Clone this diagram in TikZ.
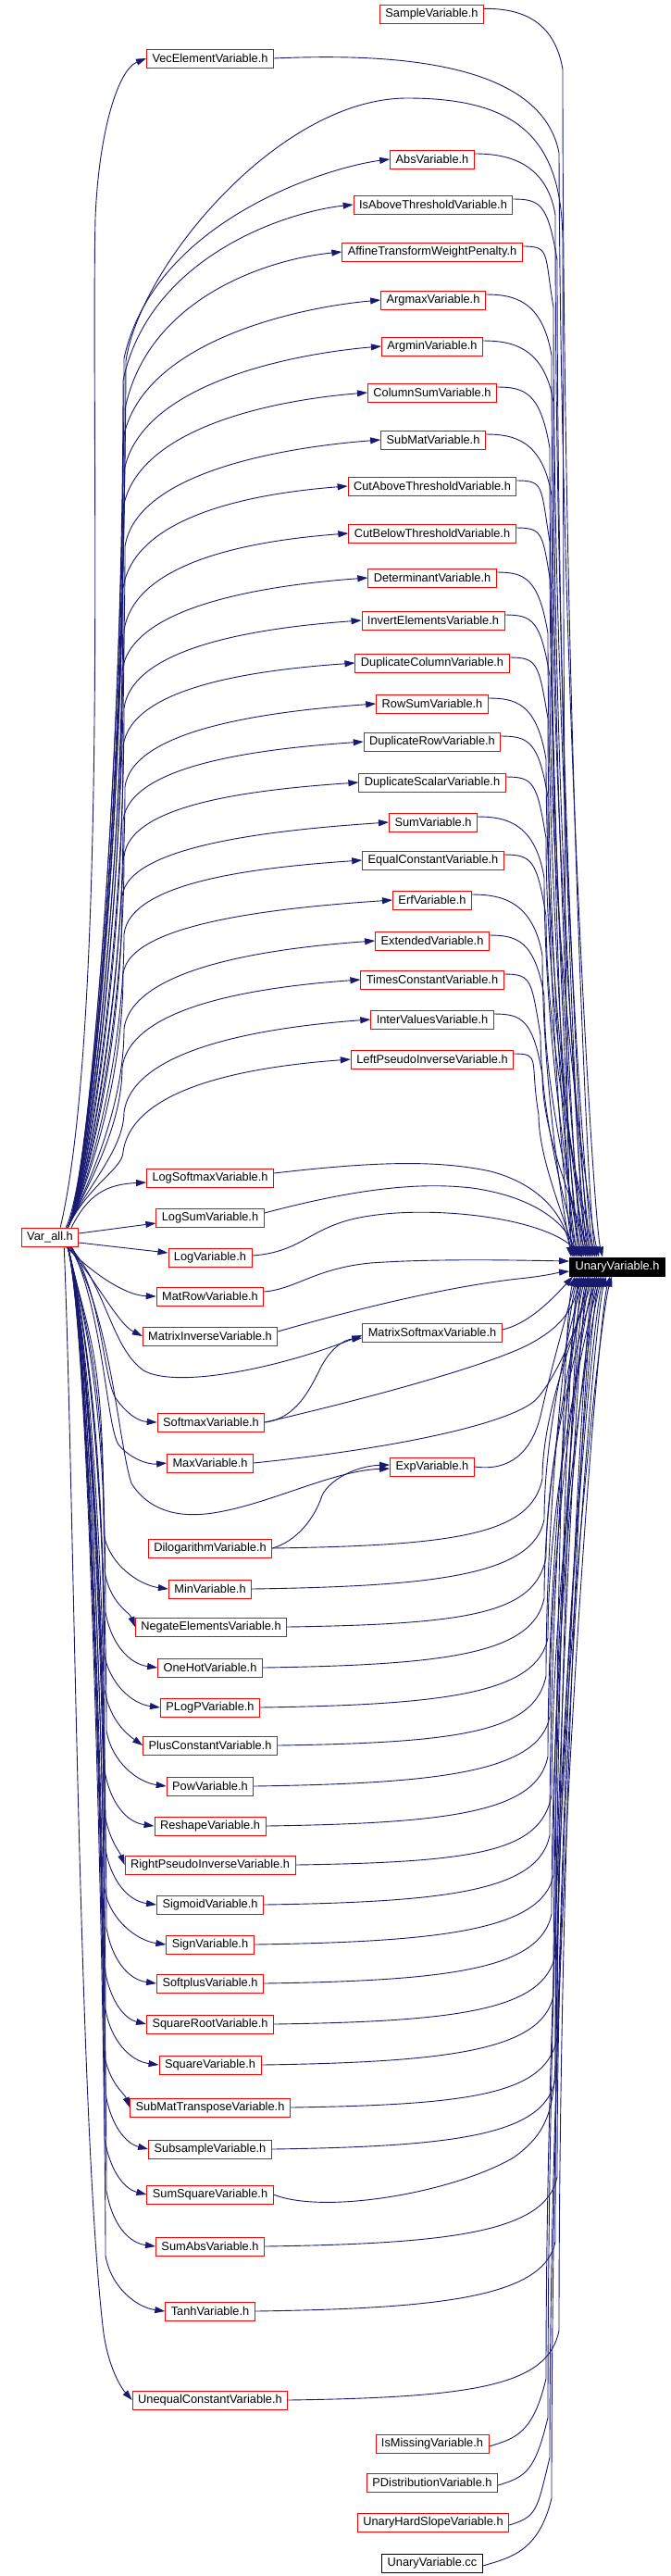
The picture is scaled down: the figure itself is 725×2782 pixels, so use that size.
\documentclass[tikz,border=0pt]{standalone}
\usepackage{fontspec}
\setmainfont{Liberation Sans}
\usetikzlibrary{arrows.meta,calc}
\definecolor{edgeblue}{HTML}{191970}
\pgfdeclarelayer{bg}
\pgfsetlayers{bg,main}
\begin{document}
\begin{tikzpicture}[x=1pt,y=-1pt,
  box/.style={draw=red, fill=white, line width=0.9pt, minimum height=20pt, inner xsep=6pt, inner ysep=0pt, font=\fontsize{12.8}{14}\selectfont, text=black},
  uvbox/.style={box, draw=black, fill=black, text=white},
  ccbox/.style={box, draw=black},
  edge/.style={draw=edgeblue, line width=0.9pt, -{Triangle[length=11pt,width=7pt]}}
]
\useasboundingbox (0,0) rectangle (725,2782);
% ---------------- nodes ----------------
\node[box] (samp) at (466.5,15.3) {SampleVariable.h};
\node[box] (vec) at (227,63) {VecElementVariable.h};
\node[box] (abs) at (467,172) {AbsVariable.h};
\node[box] (isab) at (468,221) {IsAboveThresholdVariable.h};
\node[box] (aff) at (467,272) {AffineTransformWeightPenalty.h};
\node[box] (argmax) at (468,324) {ArgmaxVariable.h};
\node[box] (argmin) at (467,374) {ArgminVariable.h};
\node[box] (colsum) at (467,424) {ColumnSumVariable.h};
\node[box] (submat) at (468,475) {SubMatVariable.h};
\node[box] (cutab) at (467,525) {CutAboveThresholdVariable.h};
\node[box] (cutbe) at (467,576) {CutBelowThresholdVariable.h};
\node[box] (det) at (467,624) {DeterminantVariable.h};
\node[box] (inv) at (468,670) {InvertElementsVariable.h};
\node[box] (dupcol) at (467,716) {DuplicateColumnVariable.h};
\node[box] (rowsum) at (467,760) {RowSumVariable.h};
\node[box] (duprow) at (467,801) {DuplicateRowVariable.h};
\node[box] (dupsc) at (467,845) {DuplicateScalarVariable.h};
\node[box] (sum) at (468,888) {SumVariable.h};
\node[box] (eqc) at (468,929) {EqualConstantVariable.h};
\node[box] (erf) at (467,972) {ErfVariable.h};
\node[box] (ext) at (467,1016) {ExtendedVariable.h};
\node[box] (times) at (467,1058) {TimesConstantVariable.h};
\node[box] (inter) at (467,1101) {InterValuesVariable.h};
\node[box] (lpi) at (467,1144) {LeftPseudoInverseVariable.h};
\node[box] (va) at (54,1336) {Var\_all.h};
\node[uvbox] (uv) at (667,1368) {UnaryVariable.h};
\node[box] (lsm) at (227,1272) {LogSoftmaxVariable.h};
\node[box] (lsum) at (227,1315) {LogSumVariable.h};
\node[box] (log) at (227,1358) {LogVariable.h};
\node[box] (matrow) at (227,1400) {MatRowVariable.h};
\node[box] (matinv) at (227,1443) {MatrixInverseVariable.h};
\node[box] (matsm) at (467,1439) {MatrixSoftmaxVariable.h};
\node[box] (softmax) at (228,1536) {SoftmaxVariable.h};
\node[box] (max) at (227,1580) {MaxVariable.h};
\node[box] (exp) at (467,1584) {ExpVariable.h};
\node[box] (dilog) at (227,1672) {DilogarithmVariable.h};
\node[box] (min) at (227,1716) {MinVariable.h};
\node[box] (neg) at (228,1757) {NegateElementsVariable.h};
\node[box] (onehot) at (227,1801) {OneHotVariable.h};
\node[box] (plogp) at (227,1844) {PLogPVariable.h};
\node[box] (plusc) at (227,1885) {PlusConstantVariable.h};
\node[box] (pow) at (227,1929) {PowVariable.h};
\node[box] (reshape) at (227,1972) {ReshapeVariable.h};
\node[box] (rpi) at (227,2014) {RightPseudoInverseVariable.h};
\node[box] (sigmoid) at (227,2057) {SigmoidVariable.h};
\node[box] (sign) at (227,2100) {SignVariable.h};
\node[box] (softplus) at (227,2142) {SoftplusVariable.h};
\node[box] (sqrt) at (227,2186) {SquareRootVariable.h};
\node[box] (square) at (227,2230) {SquareVariable.h};
\node[box] (smt) at (227,2276) {SubMatTransposeVariable.h};
\node[box] (subsample) at (227,2321) {SubsampleVariable.h};
\node[box] (sumsq) at (227,2370) {SumSquareVariable.h};
\node[box] (sumabs) at (227,2426) {SumAbsVariable.h};
\node[box] (tanh) at (227,2496) {TanhVariable.h};
\node[box] (uneq) at (227,2592) {UnequalConstantVariable.h};
\node[box] (ismiss) at (467,2639) {IsMissingVariable.h};
\node[box] (pdist) at (467,2681) {PDistributionVariable.h};
\node[box] (uhs) at (468,2724) {UnaryHardSlopeVariable.h};
\node[ccbox] (uvcc) at (467,2768) {UnaryVariable.cc};
% ---------------- edges ----------------
\begin{pgfonlayer}{bg}
\fill[white] (0,0) rectangle (725,2782);
% Var_all -> right column (upper)
\foreach \n/\y/\L/\bx in {abs/172/215/134, isab/221/190/133, aff/272/170/135, argmax/324/150/133, argmin/374/135/134, colsum/424/125/133, submat/475/115/135, cutab/525/110/133, cutbe/576/105/134, det/624/100/132, inv/670/95/134, dupcol/716/90/133, rowsum/760/90/135, duprow/801/85/133, dupsc/845/80/134, sum/888/80/132, eqc/929/80/134, erf/972/80/133, ext/1016/95/134, times/1058/95/132, inter/1101/100/134, lpi/1144/100/133}
  \draw[edge] ([xshift=-12pt]va.north east) .. controls (95,1280) and (\bx,{(\y+\L+1280)/2}) .. (\bx,{\y+\L}) .. controls ({\bx+0.2*\L-10},{\y+0.3*\L}) and ($(\n.west)+({-150+0.4*\L},8)$) .. (\n.west);
% Var_all -> VecElement
\draw[edge] ([xshift=-20pt]va.north east) .. controls (118,1100) and (98,450) .. (103,235) .. controls (107,140) and (128,75) .. (vec.west);
% Var_all -> UnaryVariable (big arc)
\draw[edge] ([xshift=-14pt]va.north east) .. controls (95,1280) and (134,900) .. (136,390) .. controls (150,290) and (300,106) .. (440,106) .. controls (560,106) and (607,150) .. (608,260) .. controls (609,900) and (612,1300) .. ($(uv.north west)+(4,0)$);
% Var_all -> left column upper
\draw[edge] ([xshift=-8pt]va.north east) .. controls (95,1290) and (115,1279) .. ([yshift=-5pt]lsm.west);
\draw[edge] ([yshift=4pt]va.east) -- ([yshift=-6pt]lsum.west);
\draw[edge] ([yshift=-6pt]va.east) -- ([yshift=5pt]log.west);
\draw[edge] ([xshift=-14pt]va.south east) .. controls (100,1375) and (135,1399) .. (matrow.west);
\draw[edge] ([xshift=-12pt]va.south east) .. controls (105,1385) and (128,1430) .. (matinv.west);
\draw[edge] ([xshift=-10pt]va.south east) .. controls (115,1390) and (120,1455) .. (155,1480) .. controls (190,1500) and (300,1478) .. ([yshift=-3pt]matsm.west);
\draw[edge] ([xshift=-8pt]va.south east) .. controls (110,1400) and (112,1490) .. (125,1510) .. controls (138,1528) and (150,1535) .. (softmax.west);
\draw[edge] ([xshift=-8pt]va.south east) .. controls (112,1420) and (115,1540) .. (128,1560) .. controls (140,1575) and (160,1582) .. (max.west);
\draw[edge] ([xshift=-10pt]va.south east) .. controls (120,1420) and (128,1560) .. (142,1602) .. controls (160,1630) and (190,1640) .. (230,1634) .. controls (290,1625) and (360,1588) .. ([yshift=-2pt]exp.west);
% Var_all -> left column lower
\foreach \n/\y/\bx/\dx/\dy in {min/1716/112/-30/-4, neg/1757/113/-6/-16, onehot/1801/114/-30/-4, plogp/1844/112/-30/-4, plusc/1885/113/-14/-10, pow/1929/115/-30/-4, reshape/1972/113/-30/-4, rpi/2014/112/-6/-16, sigmoid/2057/114/-30/-4, sign/2100/113/-30/-4, softplus/2142/115/-30/-4, sqrt/2186/113/-24/-6, square/2230/114/-30/-4, smt/2276/112/-6/-16, subsample/2321/114/-24/-6, sumsq/2370/113/-24/-6, sumabs/2426/115/-30/-4, tanh/2496/114/-30/-4}
  \draw[edge] ([xshift=-12pt]va.south east) .. controls ({\bx-15},1450) and (\bx,{\y-260}) .. (\bx,{\y-60}) .. controls ({\bx+6},{\y-25}) and ($(\n.west)+(\dx,\dy)$) .. (\n.west);
\draw[edge] ([xshift=-16pt]va.south east) .. controls (80,1600) and (85,2300) .. (112,2520) .. controls (118,2560) and (132,2580) .. (uneq.west);
% Softmax -> MatrixSoftmax, Dilogarithm -> Exp
\draw[edge] (softmax.east) .. controls (320,1532) and (335,1500) .. (346,1478) .. controls (356,1458) and (370,1447) .. ([yshift=-6pt]matsm.west);
\draw[edge] (dilog.east) .. controls (320,1665) and (340,1640) .. (348,1615) .. controls (356,1598) and (385,1583) .. ([yshift=2pt]exp.west);
% right column (upper) -> UnaryVariable
\foreach \n/\y/\bx/\tx in {samp/15/608/30, abs/172/600/24, isab/221/602/20, aff/272/598/28, argmax/324/596/16, argmin/374/598/22, colsum/424/594/12, submat/475/596/26, cutab/525/594/18, cutbe/576/596/8, det/624/592/14, inv/670/594/32, dupcol/716/592/10, rowsum/760/590/20, duprow/801/592/6, dupsc/845/590/24, sum/888/588/14, eqc/929/590/28, erf/972/586/4, ext/1016/588/18, times/1058/584/10, inter/1101/586/22, lpi/1144/582/6}
  \draw[edge] ([yshift=6pt]\n.east) .. controls ($(\n.east)+(30,-6)$) and ({\bx-10},\y) .. (\bx,{\y+60}) .. controls (\bx,{(\y+60+1300)/2}) and ($(uv.north west)+({\tx-10},-40)$) .. ($(uv.north west)+(\tx,0)$);
\draw[edge] (vec.east) .. controls (430,57) and (585,68) .. (604,165) .. controls (606,730) and ($(uv.north west)+(26,-40)$) .. ($(uv.north west)+(36,0)$);
% left column upper -> UnaryVariable
\draw[edge] ([yshift=5pt]lsm.east) .. controls (400,1255) and (470,1252) .. (530,1265) .. controls (580,1278) and (610,1310) .. ($(uv.north west)+(2,0)$);
\draw[edge] ([yshift=5pt]lsum.east) .. controls (380,1285) and (450,1276) .. (510,1283) .. controls (575,1292) and (612,1320) .. ($(uv.north west)+(8,0)$);
\draw[edge] ([yshift=2pt]log.east) .. controls (330,1352) and (335,1322) .. (400,1313) .. controls (470,1302) and (590,1315) .. ($(uv.north west)+(14,0)$);
\draw[edge] ([yshift=5pt]matrow.east) .. controls (320,1392) and (340,1370) .. (400,1364) .. controls (470,1359) and (560,1361) .. ([yshift=6pt]uv.west);
\draw[edge] ([yshift=5pt]matinv.east) .. controls (380,1415) and (480,1390) .. (560,1381) .. controls (590,1378) and (605,1374) .. ([yshift=-5pt]uv.west);
% middle nodes -> UnaryVariable (bottom)
\draw[edge] ([yshift=3pt]matsm.east) .. controls (570,1430) and (595,1405) .. ($(uv.south west)+(4,0)$);
\draw[edge] (softmax.east) .. controls (420,1505) and (540,1470) .. (575,1450) .. controls (600,1436) and (618,1420) .. ($(uv.south west)+(12,0)$);
\draw[edge] (max.east) .. controls (420,1565) and (540,1540) .. (575,1515) .. controls (595,1500) and (628,1430) .. ($(uv.south west)+(20,0)$);
\draw[edge] (exp.east) .. controls (550,1589) and (575,1570) .. (585,1525) .. controls (595,1480) and (612,1420) .. ($(uv.south west)+(8,0)$);
% left column lower -> UnaryVariable
\foreach \n/\y/\bx/\tx in {dilog/1672/586/26, min/1716/588/16, neg/1757/590/30, onehot/1801/588/22, plogp/1844/592/34, plusc/1885/590/10, pow/1929/594/28, reshape/1972/592/18, rpi/2014/596/36, sigmoid/2057/594/14, sign/2100/598/24, softplus/2142/596/32, sqrt/2186/600/6, square/2230/598/20, smt/2276/602/38, subsample/2321/600/12, sumabs/2426/602/40, tanh/2496/600/16, uneq/2592/604/30}
  \draw[edge] (\n.east) .. controls ($(\n.east)+(200,-3)$) and ({\bx-12},{\y-15}) .. (\bx,{\y-75}) .. controls (\bx,{(\y-75+1440)/2}) and ($(uv.south west)+({\tx-12},40)$) .. ($(uv.south west)+(\tx,0)$);
\draw[edge] (sumsq.east) .. controls (350,2392) and (490,2368) .. (555,2330) .. controls (590,2305) and (598,2280) .. (600,2230) .. controls (600,1840) and ($(uv.south west)+(34,40)$) .. ($(uv.south west)+(46,0)$);
% right column lower -> UnaryVariable
\foreach \n/\y/\bx/\tx in {ismiss/2639/590/34, pdist/2681/592/22, uhs/2724/594/44, uvcc/2768/596/28}
  \draw[edge] ([yshift=-3pt]\n.east) .. controls ($(\n.east)+(30,-6)$) and ({\bx-14},{\y-12}) .. (\bx,{\y-70}) .. controls (\bx,{(\y-70+1440)/2}) and ($(uv.south west)+({\tx-12},40)$) .. ($(uv.south west)+(\tx,0)$);
\end{pgfonlayer}
\end{tikzpicture}
\end{document}
